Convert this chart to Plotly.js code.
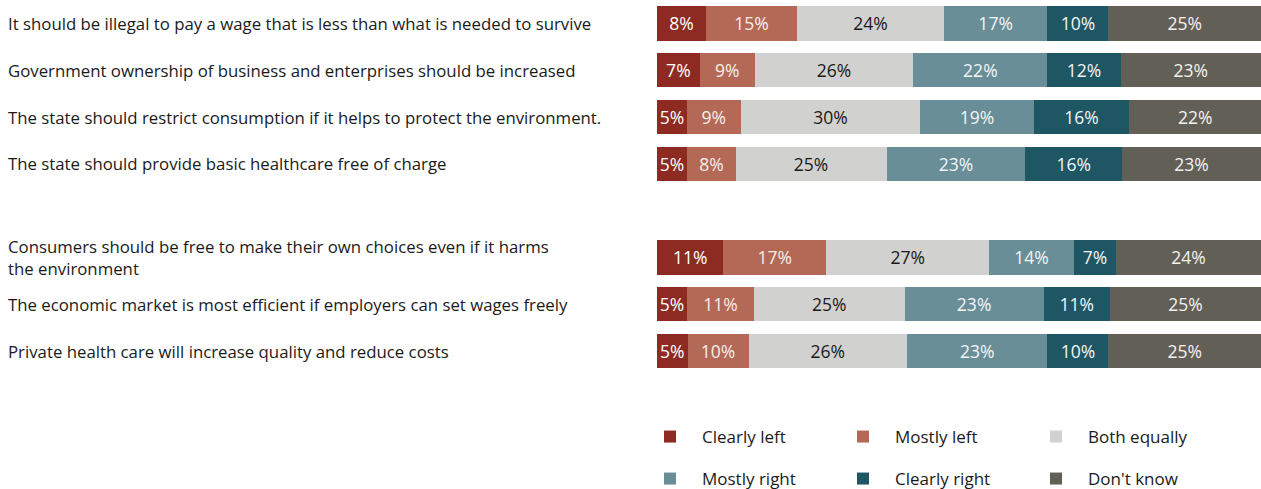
<!DOCTYPE html>
<html>
<head>
<meta charset="utf-8">
<script src="https://cdn.plot.ly/plotly-3.0.1.min.js"></script>
<style>html,body{margin:0;padding:0;background:#fff;}#chart{width:1261px;height:489px;}</style>
</head>
<body>
<div id="chart"></div>
<script>
// Statements (categories), top to bottom
const statements = [
  "It should be illegal to pay a wage that is less than what is needed to survive",
  "Government ownership of business and enterprises should be increased",
  "The state should restrict consumption if it helps to protect the environment.",
  "The state should provide basic healthcare free of charge",
  "Consumers should be free to make their own choices even if it harms<br>the environment",
  "The economic market is most efficient if employers can set wages freely",
  "Private health care will increase quality and reduce costs"
];
const spacer = " ";
const seriesNames = ["Clearly left", "Mostly left", "Both equally", "Mostly right", "Clearly right", "Don't know"];
const clearlyLeft  = [8, 7, 5, 5, 11, 5, 5];
const mostlyLeft   = [15, 9, 9, 8, 17, 11, 10];
const bothEqually  = [24, 26, 30, 25, 27, 25, 26];
const mostlyRight  = [17, 22, 19, 23, 14, 23, 23];
const clearlyRight = [10, 12, 16, 16, 7, 11, 10];
const dontKnow     = [25, 23, 22, 23, 24, 25, 25];

const seriesValues = [clearlyLeft, mostlyLeft, bothEqually, mostlyRight, clearlyRight, dontKnow];
const colors = ["#8D2B22", "#B36955", "#D1D1CF", "#698E98", "#1E5763", "#625F56"];
const textColors = ["#ffffff", "#f7eeeb", "#1a1a1a", "#f2f5f6", "#f2f5f6", "#f3f2f0"];
const FONT = "Open Sans, sans-serif";

const traces = seriesNames.map((name, i) => ({
  type: "bar",
  orientation: "h",
  name: name,
  y: statements,
  x: seriesValues[i],
  text: seriesValues[i].map(v => v + "%"),
  textposition: "inside",
  insidetextanchor: "middle",
  textangle: 0,
  constraintext: "none",
  textfont: {family: FONT, size: 17.5, color: textColors[i]},
  marker: {color: colors[i], line: {width: 0}},
  hoverinfo: "skip",
  legend: i < 3 ? "legend" : "legend2"
}));

const categoryOrder = statements.slice(0, 4).concat([spacer], statements.slice(4));

const annotations = statements.map(s => ({
  x: 0, xref: "paper", xanchor: "left", xshift: 6,
  y: s, yref: "y", yanchor: "middle",
  text: s, align: "left", showarrow: false,
  font: {family: FONT, size: 16.8, color: "#1a1a1a"}
}));

const legendCommon = {
  orientation: "h",
  xanchor: "left",
  yanchor: "middle",
  xref: "container",
  yref: "container",
  x: 638 / 1261,
  font: {family: FONT, size: 17, color: "#1a1a1a"},
  itemwidth: 54,
  entrywidth: 124,
  entrywidthmode: "pixels",
  bgcolor: "rgba(0,0,0,0)",
  traceorder: "normal"
};

const layout = {
  width: 1261,
  height: 489,
  margin: {l: 0, r: 0, t: 0, b: 99},
  paper_bgcolor: "#ffffff",
  plot_bgcolor: "#ffffff",
  barmode: "stack",
  barnorm: "percent",
  bargap: 0.27,
  showlegend: true,
  xaxis: {domain: [657 / 1261, 1], range: [0, 100], showgrid: false, zeroline: false, showticklabels: false, showline: false, fixedrange: true},
  yaxis: {type: "category", categoryorder: "array", categoryarray: categoryOrder, range: [7.833, -0.502], showgrid: false, zeroline: false, showticklabels: false, showline: false, fixedrange: true},
  uniformtext: {minsize: 17, mode: "show"},
  legend: Object.assign({}, legendCommon, {y: 1 - 437 / 489}),
  legend2: Object.assign({}, legendCommon, {y: 1 - 479 / 489}),
  annotations: annotations
};

Plotly.newPlot("chart", traces, layout, {staticPlot: true, displayModeBar: false});
</script>
</body>
</html>
